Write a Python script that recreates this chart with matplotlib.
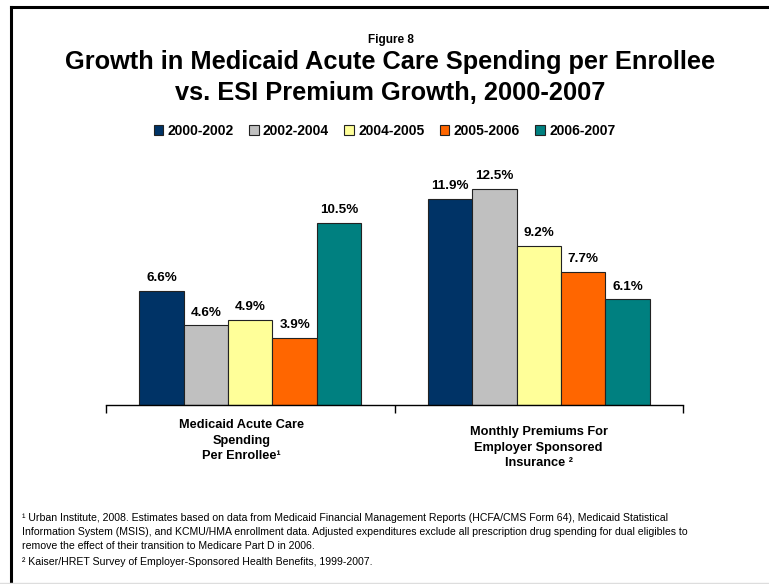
import matplotlib
matplotlib.use('Agg')
import matplotlib.pyplot as plt
import numpy as np
from matplotlib.patches import Patch
from matplotlib.lines import Line2D

plt.rcParams['font.family'] = ['Liberation Sans', 'DejaVu Sans']

# Data
periods = ['2000-2002', '2002-2004', '2004-2005', '2005-2006', '2006-2007']
groups = ['Medicaid Acute Care\nSpending\nPer Enrollee\u00b9',
          'Monthly Premiums For\nEmployer Sponsored\nInsurance \u00b2']
medicaid = [6.6, 4.6, 4.9, 3.9, 10.5]
premiums = [11.9, 12.5, 9.2, 7.7, 6.1]
colors = ['#003366', '#C0C0C0', '#FFFF99', '#FF6600', '#008080']

W, H = 769, 584
fig = plt.figure(figsize=(W / 100, H / 100), dpi=100)

# Axes placed in pixel units
x0, x1, y_base = 106, 683, 405
ymax = 13
px_per_unit = 17.3
ax = fig.add_axes([x0 / W, 1 - y_base / H, (x1 - x0) / W, ymax * px_per_unit / H])

bar_w = 0.1537
x = np.arange(len(groups))
values = np.array([medicaid, premiums])
for i, (per, col) in enumerate(zip(periods, colors)):
    xs = x + (i - 2) * bar_w
    bars = ax.bar(xs, values[:, i], width=bar_w, color=col, edgecolor='#222222',
                  linewidth=0.8, label=per, zorder=2)
    for b, v in zip(bars, values[:, i]):
        ax.text(b.get_x() + b.get_width() / 2, v + 0.4, f'{v:.1f}%',
                ha='center', va='bottom', fontsize=9.7, fontweight='bold')

ax.set_xlim(-0.5, 1.5)
ax.set_ylim(0, ymax)
for s in ['left', 'right', 'top']:
    ax.spines[s].set_visible(False)
ax.spines['bottom'].set_linewidth(1.0)
ax.set_yticks([])
ax.set_xticks([-0.5, 0.5, 1.5])
ax.set_xticklabels([])
ax.tick_params(axis='x', length=6, width=1.0, direction='out')
ax.get_xticklines()[2].set_color('#888888')

# Category labels under the axis
ax.text(-0.03, -0.8, groups[0], ha='center', va='top', fontsize=9.2,
        fontweight='bold', linespacing=1.42)
ax.text(1.0, -1.2, groups[1], ha='center', va='top', fontsize=9.2,
        fontweight='bold', linespacing=1.42)

# Titles
xc = 0.5 + 6 / W
fig.text(xc, 1 - 40 / H, 'Figure 8', ha='center', va='center',
         fontsize=8.5, fontweight='bold')
fig.text(xc, 1 - 62 / H, 'Growth in Medicaid Acute Care Spending per Enrollee',
         ha='center', va='center', fontsize=18.3, fontweight='bold')
fig.text(xc, 1 - 93 / H, 'vs. ESI Premium Growth, 2000-2007',
         ha='center', va='center', fontsize=18.3, fontweight='bold')

# Legend
handles = [Patch(facecolor=c, edgecolor='#222222', linewidth=0.8) for c in colors]
fig.legend(handles, periods, loc='center', bbox_to_anchor=(0.5, 1 - 131 / H),
           ncol=5, frameon=False, prop={'weight': 'bold', 'size': 10},
           handlelength=0.7, handleheight=0.7, handletextpad=0.3,
           columnspacing=1.1)

# Footnotes
notes = [
    '\u00b9 Urban Institute, 2008. Estimates based on data from Medicaid Financial Management Reports (HCFA/CMS Form 64), Medicaid Statistical',
    'Information System (MSIS), and KCMU/HMA enrollment data. Adjusted expenditures exclude all prescription drug spending for dual eligibles to',
    'remove the effect of their transition to Medicare Part D in 2006.',
]
for k, line in enumerate(notes):
    fig.text(22 / W, 1 - (518 + 14 * k) / H, line, ha='left', va='center', fontsize=7.6)
fig.text(22 / W, 1 - 562 / H,
         '\u00b2 Kaiser/HRET Survey of Employer-Sponsored Health Benefits, 1999-2007.',
         ha='left', va='center', fontsize=7.6)

# Frame lines
fig.add_artist(Line2D([11 / W, 1], [1 - 6.5 / H, 1 - 6.5 / H], color='black', lw=2.2))
fig.add_artist(Line2D([11 / W, 11 / W], [0, 1 - 6.5 / H], color='black', lw=2.2))
fig.add_artist(Line2D([0, 1], [1.5 / H, 1.5 / H], color='#DDDDDD', lw=1))

fig.savefig('out.png', dpi=100)
